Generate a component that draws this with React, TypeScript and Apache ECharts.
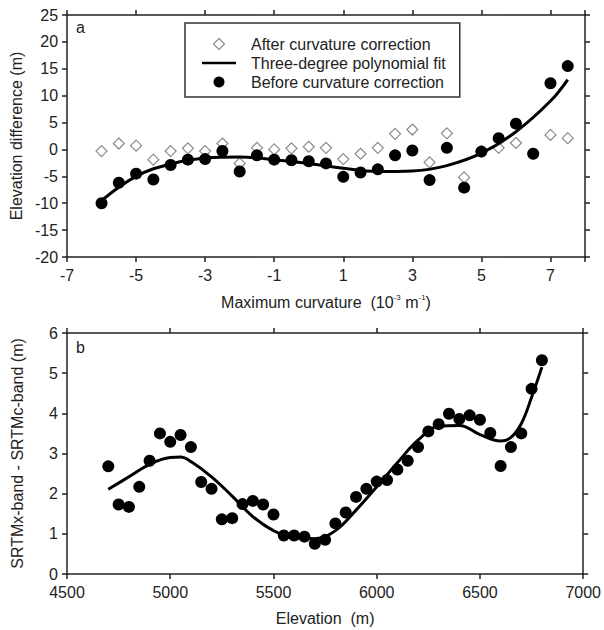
import React, { useEffect, useRef } from 'react';
import * as echarts from 'echarts';

// ---- Panel a data ----
const curvX = [-6, -5.5, -5, -4.5, -4, -3.5, -3, -2.5, -2, -1.5, -1, -0.5, 0, 0.5, 1, 1.5, 2, 2.5, 3, 3.5, 4, 4.5, 5, 5.5, 6, 6.5, 7, 7.5];
const afterY = [-0.3, 1.1, 0.7, -1.9, -0.3, 0.2, -0.3, 1.1, -2.6, 0.3, 0.0, 0.2, 0.5, 0.3, -1.8, -0.8, 0.3, 2.9, 3.7, -2.4, 3.0, -5.2, -0.4, 0.3, 1.2, -0.8, 2.7, 2.1];
const beforeY = [-10.0, -6.2, -4.5, -5.6, -2.9, -1.9, -1.8, -0.3, -4.1, -1.1, -1.9, -2.0, -2.2, -2.6, -5.1, -4.3, -3.7, -1.1, -0.2, -5.7, 0.3, -7.1, -0.4, 2.1, 4.8, -0.8, 12.3, 15.5];
const fitAX = [-6, -5, -4, -3, -2, -1, 0, 1, 2, 3, 4, 5, 6, 7, 7.5];
const fitAY = [-9.5, -5.0, -2.7, -1.6, -1.4, -1.9, -2.6, -3.5, -4.1, -4.0, -3.0, -0.7, 3.3, 9.0, 13.0];

// ---- Panel b data ----
const elevX = [4700, 4750, 4800, 4850, 4900, 4950, 5000, 5050, 5100, 5150, 5200, 5250, 5300, 5350, 5400, 5450, 5500, 5550, 5600, 5650, 5700, 5750, 5800, 5850, 5900, 5950, 6000, 6050, 6100, 6150, 6200, 6250, 6300, 6350, 6400, 6450, 6500, 6550, 6600, 6650, 6700, 6750, 6800];
const diffY = [2.68, 1.73, 1.67, 2.17, 2.82, 3.50, 3.29, 3.46, 3.16, 2.29, 2.12, 1.36, 1.39, 1.74, 1.82, 1.73, 1.48, 0.96, 0.96, 0.93, 0.75, 0.85, 1.26, 1.53, 1.92, 2.12, 2.30, 2.34, 2.60, 2.82, 3.16, 3.55, 3.73, 3.99, 3.86, 3.95, 3.84, 3.51, 2.69, 3.16, 3.50, 4.61, 5.32];
const fitBX = [4700, 4800, 4900, 5000, 5050, 5100, 5200, 5300, 5400, 5500, 5600, 5700, 5800, 5900, 6000, 6100, 6200, 6300, 6400, 6500, 6600, 6650, 6700, 6750, 6800];
const fitBY = [2.11, 2.42, 2.73, 2.90, 2.91, 2.80, 2.42, 1.94, 1.43, 1.08, 0.90, 0.88, 1.08, 1.59, 2.17, 2.77, 3.33, 3.68, 3.70, 3.47, 3.31, 3.40, 3.74, 4.40, 5.15];

const legendNames = ['After curvature correction', 'Three-degree polynomial fit', 'Before curvature correction'];

const FONT = 'Liberation Sans, Arial, Helvetica, sans-serif';
const INK = '#222';
const FS = 16;

const axisLine = { show: true, onZero: false, lineStyle: { color: INK, width: 1.5 } };
const axisTick = { show: true, inside: false, length: 5, lineStyle: { color: INK, width: 1.5 } };
const labelStyle = { color: INK, fontFamily: FONT, fontSize: FS };

export default function App() {
  const ref = useRef<HTMLDivElement>(null);
  useEffect(() => {
    if (!ref.current) return;
    const chart = echarts.init(ref.current, undefined, { renderer: 'svg' });
    const zip = (xs: number[], ys: number[]) => xs.map((x, i) => [x, ys[i]]);
    chart.setOption({
      animation: false,
      backgroundColor: '#fff',
      grid: [
        { left: 67, top: 15, width: 518, height: 242, containLabel: false },
        { left: 67, top: 333, width: 518, height: 241, containLabel: false },
      ],
      legend: {
        orient: 'vertical',
        left: 185,
        top: 23,
        width: 282,
        data: [
          { name: legendNames[0], icon: 'path://M5,0L10,5L5,10L0,5Z', itemStyle: { color: '#fff', borderColor: '#8a8a8a', borderWidth: 1.2, opacity: 1 } },
          { name: legendNames[1], icon: 'path://M0,0L34,0L34,2.5L0,2.5Z', itemStyle: { color: '#000', opacity: 1 } },
          { name: legendNames[2], icon: 'circle', itemStyle: { color: '#000', opacity: 1 } },
        ],
        itemWidth: 34,
        itemHeight: 11,
        itemGap: 3,
        padding: [13, 14, 7, 17],
        borderColor: '#333',
        borderWidth: 1.5,
        backgroundColor: '#fff',
        textStyle: { color: INK, fontFamily: FONT, fontSize: FS, padding: [0, 0, 0, 10] },
        selectedMode: false,
      },
      xAxis: [
        {
          type: 'value', gridIndex: 0, min: -7, max: 8, interval: 2, position: 'bottom',
          axisLine, axisTick, splitLine: { show: false },
          axisLabel: { ...labelStyle, margin: 10, formatter: (v: number) => (v === 8 ? '' : String(v)) },
          name: '{t|Maximum curvature  (10}{s|-3}{t| m}{s|-1}{t|)}',
          nameLocation: 'middle', nameGap: 36,
          nameTextStyle: {
            rich: {
              t: { fontFamily: FONT, fontSize: FS, color: INK, lineHeight: 18 },
              s: { fontFamily: FONT, fontSize: 8, color: INK, verticalAlign: 'top', lineHeight: 18, padding: [0, 0, 6, 0] },
            },
          },
        },
        {
          type: 'value', gridIndex: 0, min: -7, max: 8, interval: 2, position: 'top',
          axisLine, axisTick, splitLine: { show: false }, axisLabel: { show: false },
        },
        {
          type: 'value', gridIndex: 1, min: 4500, max: 7000, interval: 500, position: 'bottom',
          axisLine, axisTick, splitLine: { show: false },
          axisLabel: { ...labelStyle, margin: 10, formatter: (v: number) => String(v) },
          name: 'Elevation  (m)', nameLocation: 'middle', nameGap: 36,
          nameTextStyle: { fontFamily: FONT, fontSize: FS, color: INK },
        },
        {
          type: 'value', gridIndex: 1, min: 4500, max: 7000, interval: 500, position: 'top',
          axisLine, axisTick, splitLine: { show: false }, axisLabel: { show: false },
        },
      ],
      yAxis: [
        {
          type: 'value', gridIndex: 0, min: -20, max: 25, interval: 5, position: 'left',
          axisLine, axisTick, splitLine: { show: false },
          axisLabel: { ...labelStyle, margin: 9 },
          name: 'Elevation difference (m)', nameLocation: 'middle', nameGap: 35,
          nameTextStyle: { fontFamily: FONT, fontSize: FS, color: INK },
        },
        {
          type: 'value', gridIndex: 0, min: -20, max: 25, interval: 5, position: 'right',
          axisLine, axisTick, splitLine: { show: false }, axisLabel: { show: false },
        },
        {
          type: 'value', gridIndex: 1, min: 0, max: 6, interval: 1, position: 'left',
          axisLine, axisTick, splitLine: { show: false },
          axisLabel: { ...labelStyle, margin: 9 },
          name: 'SRTMx-band - SRTMc-band (m)', nameLocation: 'middle', nameGap: 42,
          nameTextStyle: { fontFamily: FONT, fontSize: FS, color: INK },
        },
        {
          type: 'value', gridIndex: 1, min: 0, max: 6, interval: 1, position: 'right',
          axisLine, axisTick, splitLine: { show: false }, axisLabel: { show: false },
        },
      ],
      series: [
        {
          name: legendNames[0], type: 'scatter', xAxisIndex: 0, yAxisIndex: 0,
          data: zip(curvX, afterY), symbol: 'diamond', symbolSize: 11,
          itemStyle: { color: 'rgba(255,255,255,0)', borderColor: '#8a8a8a', borderWidth: 1.2, opacity: 1 },
          z: 2,
        },
        {
          name: legendNames[1], type: 'line', xAxisIndex: 0, yAxisIndex: 0,
          data: zip(fitAX, fitAY), smooth: 0.4, showSymbol: false, symbol: 'none',
          lineStyle: { color: '#000', width: 3 }, itemStyle: { color: '#000' },
          z: 3,
        },
        {
          name: legendNames[2], type: 'scatter', xAxisIndex: 0, yAxisIndex: 0,
          data: zip(curvX, beforeY), symbol: 'circle', symbolSize: 12,
          itemStyle: { color: '#000', opacity: 1 },
          z: 4,
        },
        {
          name: 'fitB', type: 'line', xAxisIndex: 2, yAxisIndex: 2,
          data: zip(fitBX, fitBY), smooth: 0.4, showSymbol: false, symbol: 'none',
          lineStyle: { color: '#000', width: 3 },
          z: 3,
        },
        {
          name: 'diffB', type: 'scatter', xAxisIndex: 2, yAxisIndex: 2,
          data: zip(elevX, diffY), symbol: 'circle', symbolSize: 12,
          itemStyle: { color: '#000', opacity: 1 },
          z: 4,
        },
      ],
      graphic: [
        { type: 'text', left: 76, top: 19, style: { text: 'a', font: `${FS}px ${FONT}`, fill: INK } },
        { type: 'text', left: 76, top: 339, style: { text: 'b', font: `${FS}px ${FONT}`, fill: INK } },
      ],
    });
    return () => chart.dispose();
  }, []);
  return <div ref={ref} style={{ position: 'absolute', left: 0, top: 0, width: 604, height: 630 }} />;
}
